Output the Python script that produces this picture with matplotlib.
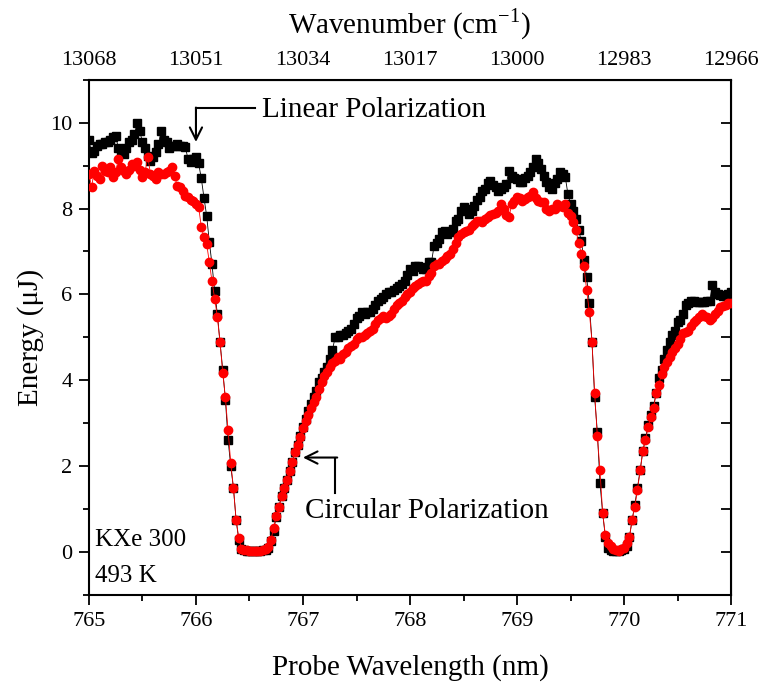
import numpy as np
import matplotlib
matplotlib.use("Agg")
import matplotlib.pyplot as plt

plt.rcParams['font.family'] = ['Liberation Serif', 'DejaVu Serif']
plt.rcParams['mathtext.fontset'] = 'stix'

# probe wavelength grid (nm), 0.025 nm steps from 765 to 771
wavelength = np.linspace(765.0, 771.0, 241)

# energy (uJ), linear polarization (black squares)
linear = [
    # 765.000 - 765.975
    9.6, 9.3, 9.35, 9.45, 9.5, 9.5, 9.55, 9.55, 9.6, 9.67,
    9.7, 9.4, 9.35, 9.28, 9.4, 9.55, 9.6, 9.74, 9.98, 9.8,
    9.55, 9.4, 9.23, 9.1, 9.2, 9.32, 9.5, 9.81, 9.6, 9.55,
    9.4, 9.45, 9.46, 9.5, 9.45, 9.46, 9.44, 9.16, 9.09, 9.15,
    # 766.000 - 766.450
    9.2, 9.05, 8.7, 8.25, 7.83, 7.22, 6.7, 6.07, 5.54, 4.88,
    4.25, 3.55, 2.62, 2.0, 1.5, 0.75, 0.28, 0.08, 0.04,
    # 766.475 - 766.750
    0.03, 0.02, 0.02, 0.02, 0.03, 0.03, 0.04, 0.05, 0.1, 0.25, 0.5, 0.82,
    # 766.775 - 768.050
    1.05, 1.3, 1.5, 1.68, 1.88, 2.1, 2.32, 2.5, 2.7,
    2.92, 3.1, 3.28, 3.45, 3.6, 3.75, 3.95, 4.05, 4.2, 4.3,
    4.5, 4.7, 5.0, 5.0, 5.05, 5.05, 5.1, 5.15, 5.2, 5.3,
    5.45, 5.5, 5.6, 5.55, 5.6, 5.6, 5.65, 5.75, 5.85, 5.9,
    5.95, 6.0, 6.05, 6.05, 6.1, 6.15, 6.2, 6.25, 6.3, 6.45,
    6.6, 6.55, 6.65,
    # 768.075 - 769.625
    6.65, 6.63, 6.6, 6.6, 6.75, 6.75, 7.13, 7.2, 7.3, 7.45,
    7.48, 7.4, 7.45, 7.52, 7.7, 7.76, 7.94, 8.04, 8.0, 7.87,
    7.95, 8.06, 8.2, 8.27, 8.4, 8.46, 8.6, 8.65, 8.55, 8.5,
    8.41, 8.46, 8.5, 8.58, 8.88, 8.76, 8.7,
    8.69, 8.62, 8.62, 8.7, 8.76, 8.85, 8.97, 9.16, 9.05, 8.93,
    8.76, 8.62, 8.5, 8.46, 8.6, 8.69, 8.86, 8.8, 8.74, 8.34,
    8.1, 7.95, 7.75, 7.5, 7.25, 6.8,
    # 769.650 - 771.000
    6.4, 5.8, 4.9, 3.6, 2.8, 1.6, 0.9, 0.35, 0.1, 0.05, 0.03, 0.03, 0.02, 0.04,
    0.06, 0.15, 0.35, 0.75, 1.1, 1.5, 1.9, 2.35, 2.65, 2.95,
    3.2, 3.4, 3.7, 4.05, 4.25, 4.5, 4.7, 4.9, 5.05, 5.15,
    5.35, 5.4, 5.55, 5.75, 5.8, 5.85, 5.85, 5.83, 5.82, 5.82,
    5.82, 5.84, 5.85, 6.21, 6.05, 6.0, 5.98, 5.96, 5.96, 6.0,
    6.05,
]

# energy (uJ), circular polarization (red circles)
circular = [
    # 765.000 - 765.975
    8.81, 8.5, 8.88, 8.75, 8.69, 9.0, 8.88, 8.85, 8.97, 8.74,
    8.85, 9.16, 8.97, 8.88, 8.81, 8.9, 9.04, 9.0, 9.09, 8.9,
    8.74, 8.86, 9.2, 8.81, 8.75, 8.69, 8.86, 8.8, 8.81, 8.85,
    8.88, 8.97, 8.75, 8.53, 8.5, 8.4, 8.3, 8.27, 8.2, 8.18,
    # 766.000 - 766.450
    8.1, 8.04, 7.57, 7.33, 7.17, 6.75, 6.3, 5.9, 5.47, 4.88,
    4.18, 3.6, 2.85, 2.08, 1.5, 0.75, 0.33, 0.08, 0.04,
    # 766.475 - 766.750
    0.04, 0.03, 0.02, 0.02, 0.03, 0.03, 0.04, 0.06, 0.12, 0.28, 0.55, 0.85,
    # 766.775 - 768.050
    1.05, 1.3, 1.5, 1.68, 1.88, 2.1, 2.32, 2.5, 2.68,
    2.88, 3.05, 3.2, 3.35, 3.5, 3.62, 3.8, 3.95, 4.1, 4.2,
    4.3, 4.4, 4.45, 4.55, 4.5, 4.6, 4.65, 4.75, 4.8, 4.85,
    4.95, 5.0, 5.0, 5.05, 5.1, 5.15, 5.2, 5.3, 5.4, 5.45,
    5.5, 5.45, 5.5, 5.55, 5.65, 5.75, 5.8, 5.85, 5.95, 6.0,
    6.05, 6.15, 6.2,
    # 768.075 - 769.625
    6.25, 6.28, 6.31, 6.31, 6.43, 6.5, 6.66, 6.7, 6.7, 6.78,
    6.82, 6.89, 6.95, 7.06, 7.2, 7.34, 7.4, 7.45, 7.48, 7.5,
    7.6, 7.65, 7.71, 7.7, 7.69, 7.75, 7.8, 7.85, 7.87, 7.9,
    7.94, 8.1, 8.0, 7.85, 7.8, 8.1, 8.18,
    8.27, 8.25, 8.18, 8.22, 8.27, 8.3, 8.39, 8.25, 8.18, 8.15,
    8.15, 8.0, 7.94, 7.99, 8.0, 8.1, 8.05, 8.04, 8.1, 7.9,
    7.83, 7.69, 7.5, 7.2, 6.95, 6.66,
    # 769.650 - 771.000
    6.1, 5.6, 4.9, 3.7, 2.7, 1.9, 0.9, 0.4, 0.2, 0.15, 0.08, 0.05, 0.03, 0.06,
    0.1, 0.2, 0.35, 0.75, 1.05, 1.45, 1.9, 2.35, 2.6, 2.9,
    3.15, 3.35, 3.7, 3.9, 4.15, 4.3, 4.42, 4.55, 4.65, 4.75,
    4.85, 4.95, 5.1, 5.12, 5.15, 5.26, 5.35, 5.4, 5.47, 5.54,
    5.5, 5.47, 5.4, 5.45, 5.55, 5.62, 5.7, 5.72, 5.75, 5.8,
    5.8,
]

x_ticks = [765, 766, 767, 768, 769, 770, 771]
wavenumber_labels = ['13068', '13051', '13034', '13017', '13000', '12983', '12966']

fig = plt.figure(figsize=(7.6, 6.87), dpi=100)
ax = fig.add_axes([0.117, 0.134, 0.845, 0.750])

ax.plot(wavelength, linear, '-', color='black', lw=0.6,
        marker='s', ms=5.5, mfc='black', mec='black', zorder=2)
ax.plot(wavelength, circular, '-', color='red', lw=0.6,
        marker='o', ms=6, mfc='red', mec='red', zorder=3)

ax.set_xlim(765, 771)
ax.set_ylim(-1, 11)
ax.set_xticks(x_ticks)
ax.set_xticks(np.arange(765.5, 771, 1.0), minor=True)
ax.set_yticks([0, 2, 4, 6, 8, 10])
ax.set_yticks([-1, 1, 3, 5, 7, 9, 11], minor=True)
ax.tick_params(axis='both', which='major', direction='out', length=7, width=1.3,
               labelsize=16, pad=5)
ax.tick_params(axis='both', which='minor', direction='out', length=4, width=1.3)
for s in ax.spines.values():
    s.set_linewidth(1.5)

ax.set_xlabel('Probe Wavelength (nm)', fontsize=21, labelpad=17)
ax.set_ylabel('Energy (\u03bcJ)', fontsize=21, labelpad=4)

# top axis: wavenumber labels at the same positions
top = ax.secondary_xaxis('top')
top.set_xticks(x_ticks)
top.set_xticklabels(wavenumber_labels)
top.set_xticks(np.arange(765.5, 771, 1.0), minor=True)
top.tick_params(which='major', direction='out', length=0, labelsize=16, pad=7)
top.tick_params(which='minor', length=0)
top.set_xlabel('Wavenumber (cm$^{\\mathregular{-1}}$)', fontsize=21, labelpad=13)

right = ax.secondary_yaxis('right')
right.set_yticks(np.arange(-1, 12, 1))
right.tick_params(direction='in', length=7, width=1.3, labelright=False)

# annotations
ax.plot([766.55, 766.0], [10.33, 10.33], color='black', lw=1.5)
ax.annotate('', xy=(766.0, 9.55), xytext=(766.0, 10.35),
            arrowprops=dict(arrowstyle='->', color='black', lw=1.5,
                            mutation_scale=22, shrinkA=0, shrinkB=0))
ax.text(766.62, 10.3, 'Linear Polarization', fontsize=21, va='center', ha='left')

ax.plot([767.3, 767.3], [1.38, 2.2], color='black', lw=1.5)
ax.annotate('', xy=(767.0, 2.2), xytext=(767.32, 2.2),
            arrowprops=dict(arrowstyle='->', color='black', lw=1.5,
                            mutation_scale=22, shrinkA=0, shrinkB=0))
ax.text(767.02, 0.95, 'Circular Polarization', fontsize=21, va='center', ha='left')

ax.text(765.06, 0.28, 'KXe 300', fontsize=18, va='center', ha='left')
ax.text(765.06, -0.55, '493 K', fontsize=18, va='center', ha='left')

fig.savefig('out.png', dpi=100)
